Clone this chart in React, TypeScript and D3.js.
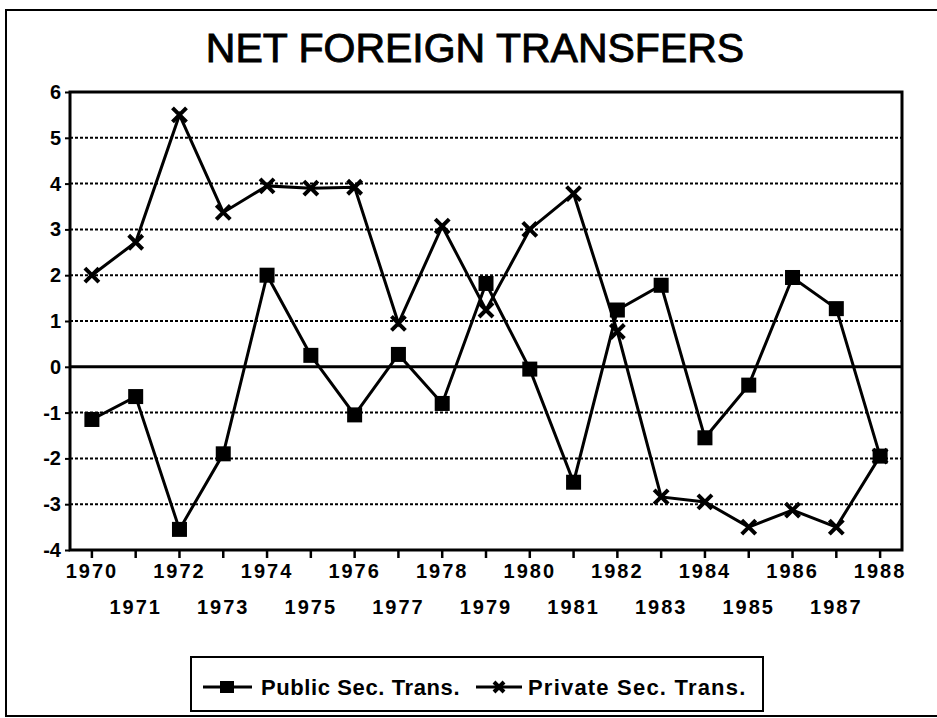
import React, { useEffect, useRef } from 'react';
import * as d3 from 'd3';

const years = [1970, 1971, 1972, 1973, 1974, 1975, 1976, 1977, 1978, 1979, 1980, 1981, 1982, 1983, 1984, 1985, 1986, 1987, 1988];
const publicSec = [-1.15, -0.65, -3.55, -1.9, 2.0, 0.25, -1.05, 0.27, -0.8, 1.82, -0.05, -2.52, 1.24, 1.78, -1.55, -0.4, 1.95, 1.27, -1.95];
const privateSec = [2.0, 2.72, 5.5, 3.37, 3.95, 3.9, 3.92, 0.95, 3.07, 1.24, 3.0, 3.78, 0.77, -2.84, -2.95, -3.5, -3.13, -3.5, -1.95];
const yTicks = [-4, -3, -2, -1, 0, 1, 2, 3, 4, 5, 6];

const W = 937;
const H = 718;
const margin = { top: 92, right: 35, bottom: 168, left: 70 };
const font = '"Liberation Sans", Arial, Helvetica, sans-serif';

const App = () => {
  const ref = useRef<SVGSVGElement>(null);

  useEffect(() => {
    const svg = d3.select(ref.current);
    svg.selectAll('*').remove();

    const x = d3.scaleBand<number>()
      .domain(years)
      .range([margin.left, W - margin.right]);
    const cx = (yr: number) => (x(yr) as number) + x.bandwidth() / 2;

    const y = d3.scaleLinear()
      .domain([-4, 6])
      .range([H - margin.bottom, margin.top]);

    // outer frame
    svg.append('rect')
      .attr('x', 6).attr('y', 10)
      .attr('width', W).attr('height', 706)
      .attr('fill', 'none').attr('stroke', '#000').attr('stroke-width', 2);

    svg.append('text')
      .attr('x', 475).attr('y', 62)
      .attr('text-anchor', 'middle')
      .attr('font-family', font)
      .attr('font-size', 41)
      .attr('stroke', '#000').attr('stroke-width', 0.9)
      .text('NET FOREIGN TRANSFERS');

    // dotted grid
    svg.append('g')
      .selectAll('line')
      .data(yTicks.filter(t => t !== 0 && t !== -4 && t !== 6))
      .enter().append('line')
      .attr('x1', margin.left).attr('x2', W - margin.right)
      .attr('y1', d => y(d)).attr('y2', d => y(d))
      .attr('stroke', '#000').attr('stroke-width', 2)
      .attr('stroke-dasharray', '3,2');

    // zero line
    svg.append('line')
      .attr('x1', margin.left).attr('x2', W - margin.right)
      .attr('y1', y(0)).attr('y2', y(0))
      .attr('stroke', '#000').attr('stroke-width', 3);

    // plot frame
    svg.append('rect')
      .attr('x', margin.left).attr('y', margin.top)
      .attr('width', W - margin.left - margin.right)
      .attr('height', H - margin.top - margin.bottom)
      .attr('fill', 'none').attr('stroke', '#000').attr('stroke-width', 3);

    // y axis
    const yAxis = svg.append('g')
      .attr('transform', `translate(${margin.left},0)`)
      .call(d3.axisLeft(y).tickValues(yTicks).tickSize(5).tickPadding(4).tickFormat(d => String(d)));
    yAxis.select('.domain').remove();
    yAxis.selectAll('line').attr('stroke-width', 2);
    yAxis.selectAll('text')
      .attr('font-family', font).attr('font-size', 20).attr('font-weight', 'bold')
      .attr('fill', '#000');

    // x axis ticks
    svg.append('g')
      .selectAll('line')
      .data(years)
      .enter().append('line')
      .attr('x1', d => cx(d)).attr('x2', d => cx(d))
      .attr('y1', y(-4)).attr('y2', y(-4) + 8)
      .attr('stroke', '#000').attr('stroke-width', 2.5);

    svg.append('g')
      .selectAll('text')
      .data(years)
      .enter().append('text')
      .attr('x', d => cx(d))
      .attr('y', (d, i) => (i % 2 === 0 ? 578 : 614))
      .attr('text-anchor', 'middle')
      .attr('font-family', font).attr('font-size', 20).attr('font-weight', 'bold')
      .attr('letter-spacing', 2)
      .text(d => String(d));

    const line = d3.line<number>()
      .x((d, i) => cx(years[i]))
      .y(d => y(d));

    const xMark = (g: any, px: number, py: number, s: number) => {
      g.append('path')
        .attr('d', `M${px - s},${py - s}L${px + s},${py + s}M${px - s},${py + s}L${px + s},${py - s}`)
        .attr('stroke', '#000').attr('stroke-width', 4).attr('fill', 'none');
    };

    // private series
    svg.append('path')
      .attr('d', line(privateSec))
      .attr('fill', 'none').attr('stroke', '#000').attr('stroke-width', 3);
    const pg = svg.append('g');
    privateSec.forEach((v, i) => xMark(pg, cx(years[i]), y(v), 7));

    // public series
    svg.append('path')
      .attr('d', line(publicSec))
      .attr('fill', 'none').attr('stroke', '#000').attr('stroke-width', 3);
    svg.append('g')
      .selectAll('rect')
      .data(publicSec)
      .enter().append('rect')
      .attr('x', (d, i) => cx(years[i]) - 7.5)
      .attr('y', d => y(d) - 7.5)
      .attr('width', 15).attr('height', 15)
      .attr('fill', '#000');

    // legend
    svg.append('rect')
      .attr('x', 191).attr('y', 657)
      .attr('width', 572).attr('height', 54)
      .attr('fill', 'none').attr('stroke', '#000').attr('stroke-width', 2);

    const lg = svg.append('g');
    lg.append('line')
      .attr('x1', 203).attr('x2', 252).attr('y1', 687).attr('y2', 687)
      .attr('stroke', '#000').attr('stroke-width', 3);
    lg.append('rect')
      .attr('x', 220).attr('y', 681).attr('width', 14).attr('height', 12).attr('fill', '#000');
    lg.append('text')
      .attr('x', 261).attr('y', 695)
      .attr('font-family', font).attr('font-size', 22).attr('font-weight', 'bold')
      .attr('letter-spacing', 0.6)
      .text('Public Sec. Trans.');

    lg.append('line')
      .attr('x1', 476).attr('x2', 522).attr('y1', 687).attr('y2', 687)
      .attr('stroke', '#000').attr('stroke-width', 3);
    xMark(lg, 499, 687, 5);
    lg.append('text')
      .attr('x', 528).attr('y', 695)
      .attr('font-family', font).attr('font-size', 22).attr('font-weight', 'bold')
      .attr('letter-spacing', 1.2)
      .text('Private Sec. Trans.');
  }, []);

  return (
    <svg
      ref={ref}
      width={W}
      height={H}
      style={{ position: 'absolute', left: 0, top: 0, background: '#fff' }}
    />
  );
};

export default App;
